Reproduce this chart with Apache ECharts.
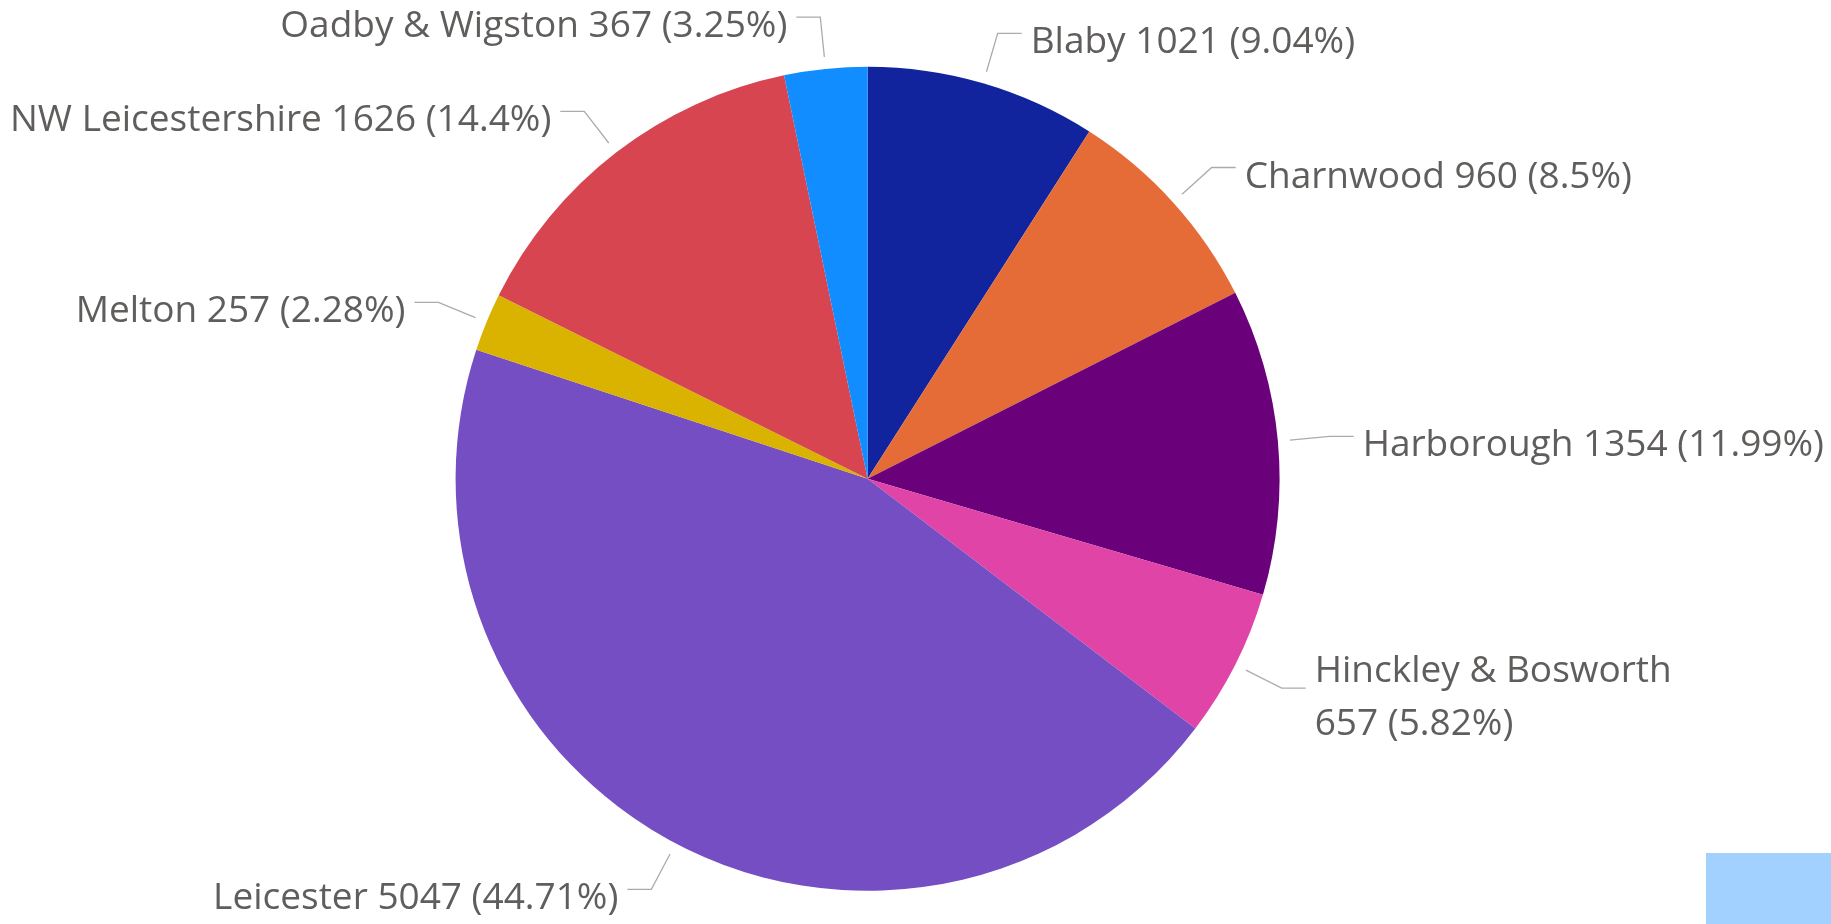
<!DOCTYPE html>
<html>
<head>
<meta charset="utf-8">
<style>
  html, body { margin: 0; padding: 0; background: #ffffff; }
  #chart { width: 1831px; height: 924px; }
</style>
<script src="https://cdn.jsdelivr.net/npm/echarts@6/dist/echarts.min.js"></script>
</head>
<body>
<div id="chart"></div>
<script>
// ---- data ----
const categories = ['Blaby', 'Charnwood', 'Harborough', 'Hinckley & Bosworth', 'Leicester', 'Melton', 'NW Leicestershire', 'Oadby & Wigston'];
const values = [1021, 960, 1354, 657, 5047, 257, 1626, 367];
const colors = ['#12239E', '#E66C37', '#6B007B', '#E044A7', '#744EC2', '#D9B300', '#D64550', '#118DFF'];
// labels that put their value on a second line (wrapped in the original)
const wrappedLabels = ['Hinckley & Bosworth'];

const total = values.reduce((a, b) => a + b, 0);

const chart = echarts.init(document.getElementById('chart'), null, { renderer: 'canvas' });
chart.setOption({
  animation: false,
  color: colors,
  graphic: [{
    type: 'rect',
    shape: { x: 1706, y: 853, width: 125, height: 71 },
    style: { fill: '#A3D1FF' },
    silent: true
  }],
  series: [{
    type: 'pie',
    center: [867.6, 478.8],
    radius: [0, 412],
    startAngle: 90,
    clockwise: true,
    avoidLabelOverlap: false,
    itemStyle: { borderWidth: 0 },
    emphasis: { disabled: true },
    label: {
      show: true,
      position: 'outside',
      alignTo: 'none',
      bleedMargin: 0,
      overflow: 'none',
      distanceToLabelLine: 9,
      fontFamily: 'Open Sans',
      fontSize: 37,
      lineHeight: 53,
      color: '#605E5C',
      formatter: function (p) {
        const pct = parseFloat((p.value / total * 100).toFixed(2));
        const sep = wrappedLabels.indexOf(p.name) >= 0 ? '\n' : ' ';
        return p.name + sep + p.value + ' (' + pct + '%)';
      }
    },
    labelLine: {
      show: true,
      length: 52,
      length2: 24,
      lineStyle: { color: '#ABABAB', width: 1.3 }
    },
    labelLayout: function (params) {
      const pts = params.labelLinePoints;
      const shiftY = 9.5;
      if (!pts || pts.length < 3) return { dy: shiftY };
      const a = pts[0], b = pts[1], c = pts[2];
      const dx = b[0] - a[0], dy = b[1] - a[1];
      const L = Math.hypot(dx, dy) || 1;
      const gap = 12;
      return {
        dy: shiftY,
        labelLinePoints: [[a[0] + dx / L * gap, a[1] + dy / L * gap], [b[0], b[1]], [c[0], c[1]]]
      };
    },
    data: categories.map((name, i) => ({ name: name, value: values[i] }))
  }]
});
</script>
</body>
</html>
